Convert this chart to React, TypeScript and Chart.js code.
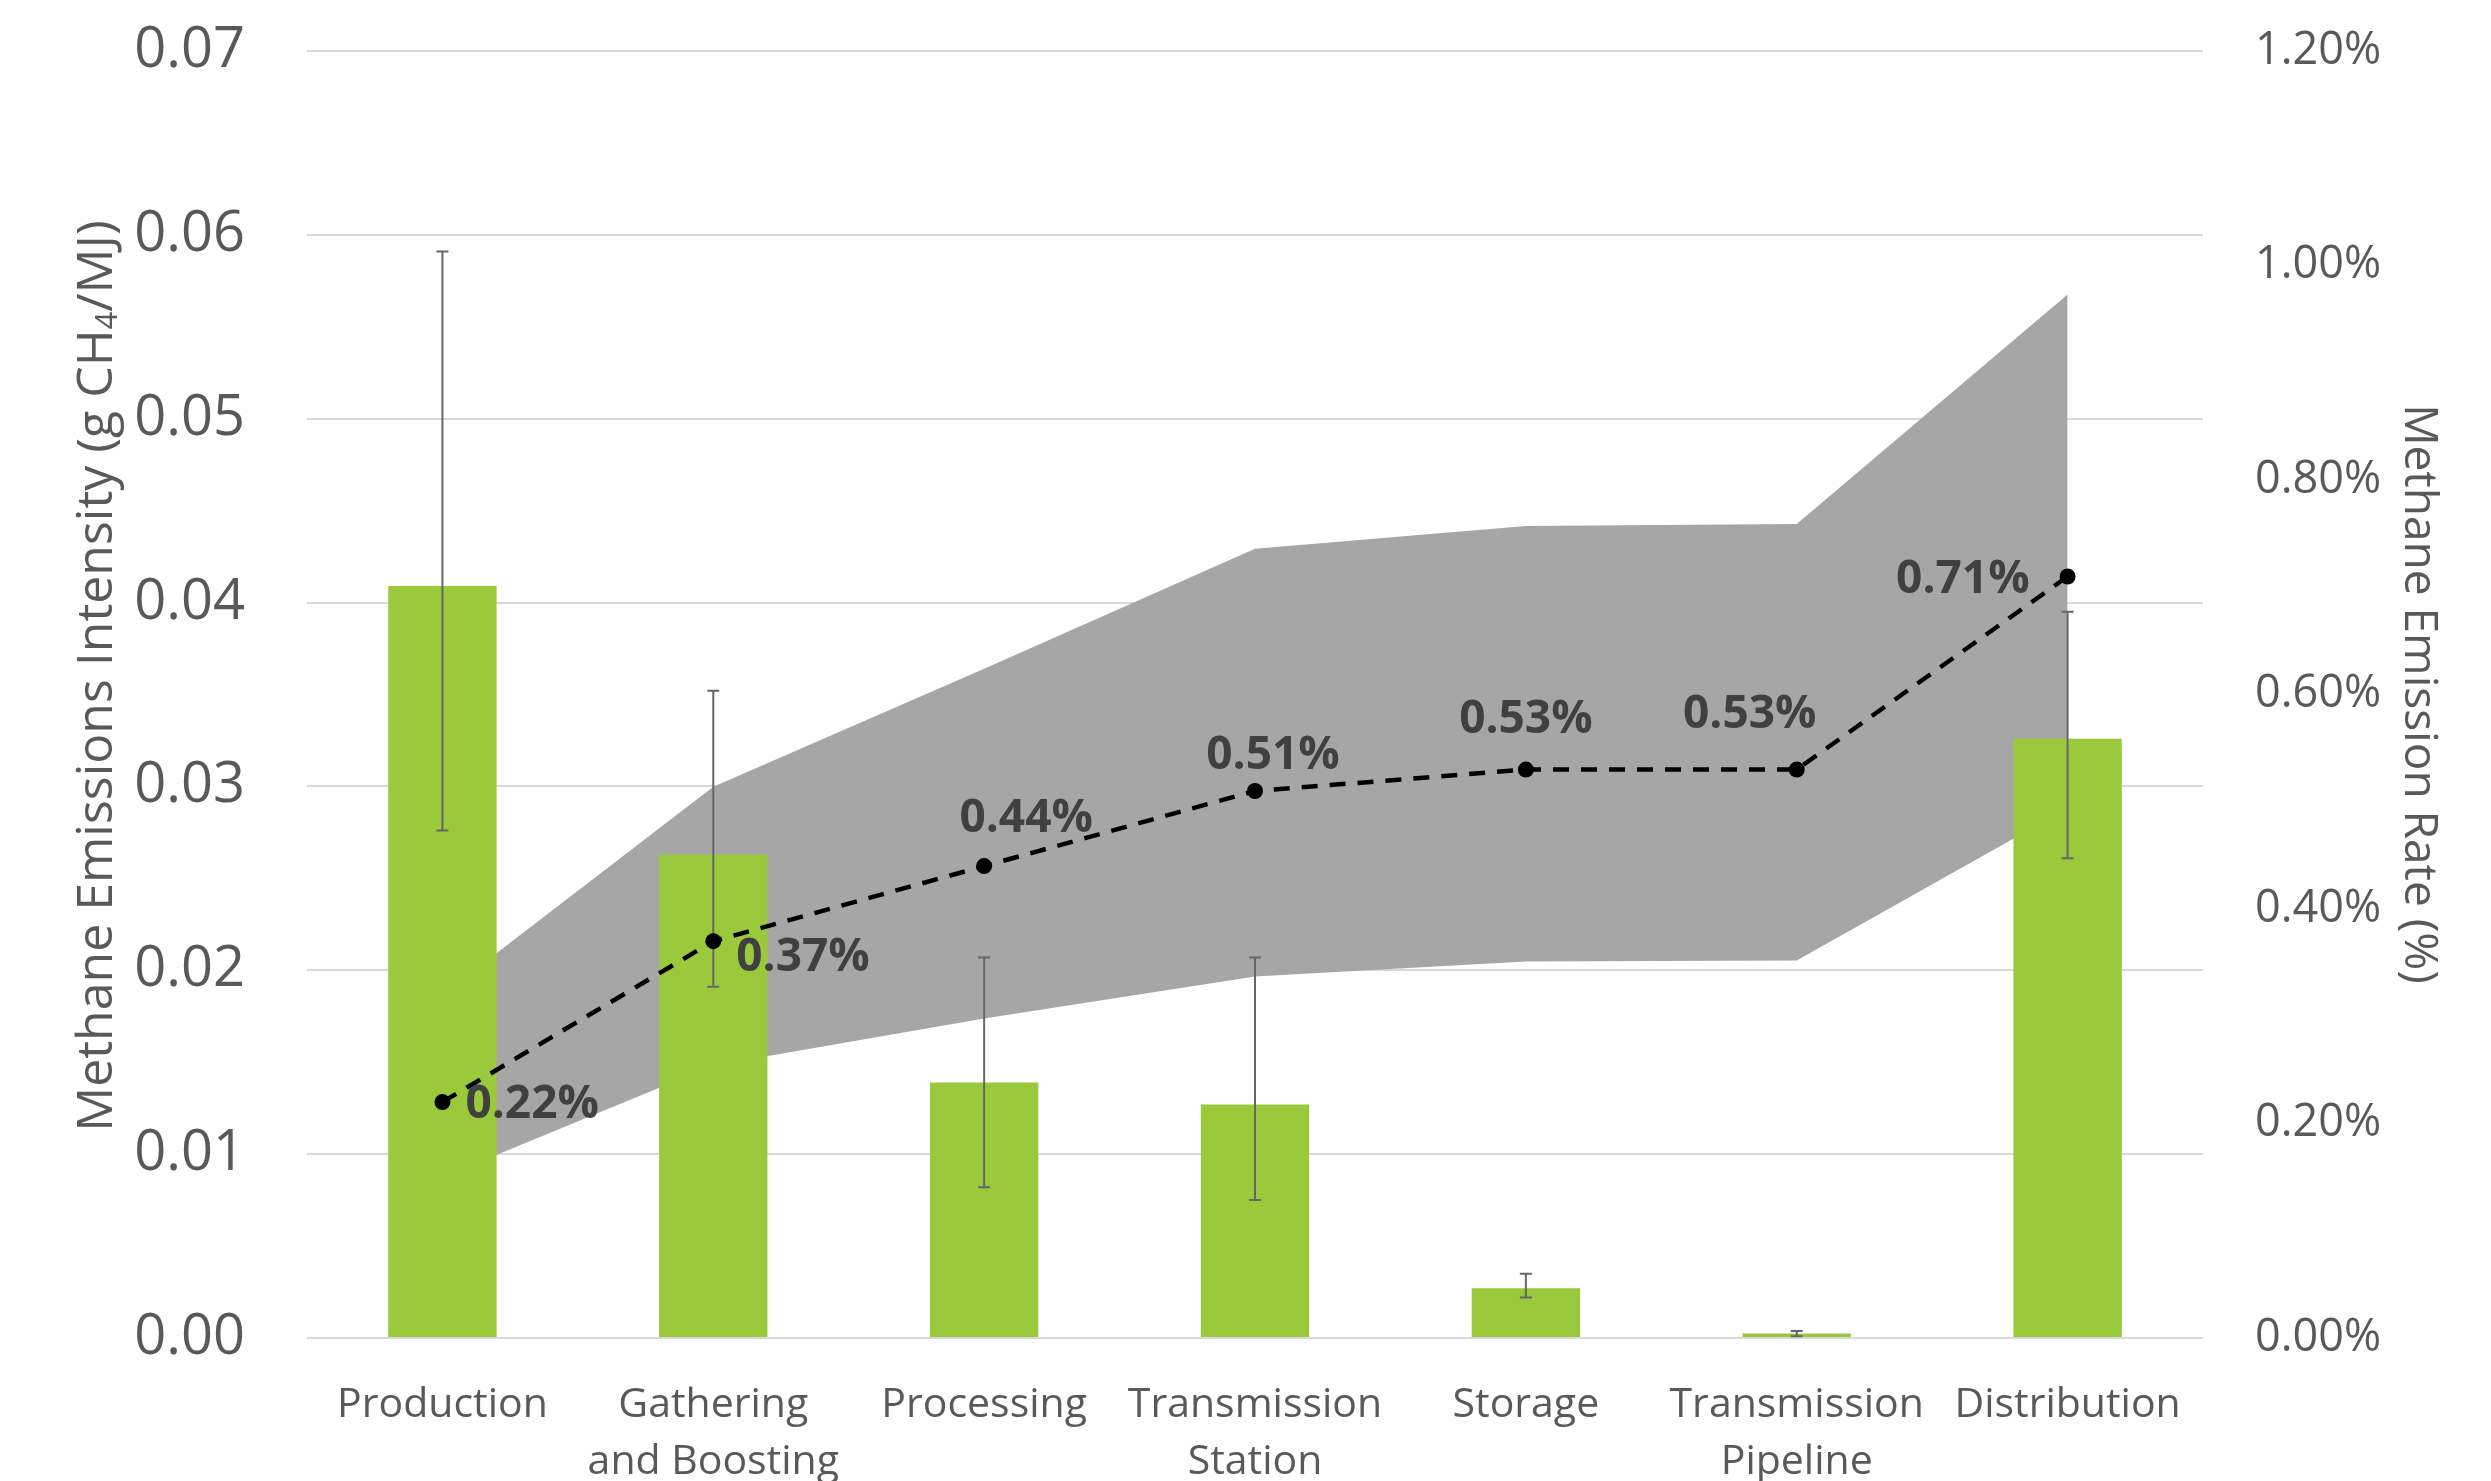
import React, { useEffect, useRef } from 'react';
import { Chart, registerables } from 'chart.js';

Chart.register(...registerables);

// Supply-chain segments (two-line labels are wrapped as arrays)
const categories: (string | string[])[] = [
  'Production',
  ['Gathering', 'and Boosting'],
  'Processing',
  ['Transmission', 'Station'],
  'Storage',
  ['Transmission', 'Pipeline'],
  'Distribution',
];

// Methane emissions intensity, g CH4 / MJ (left axis)
const intensity = [0.0409, 0.0263, 0.0139, 0.0127, 0.0027, 0.00025, 0.0326];
const intensityHigh = [0.0591, 0.0352, 0.0207, 0.0207, 0.0035, 0.00038, 0.0395];
const intensityLow = [0.0276, 0.0191, 0.0082, 0.0075, 0.0022, 0.0001, 0.0261];

// Cumulative methane emission rate, % (right axis)
const emissionRate = [0.22, 0.37, 0.44, 0.51, 0.53, 0.53, 0.71];
const rateUpper = [0.32, 0.514, 0.624, 0.736, 0.757, 0.759, 0.973];
const rateLower = [0.15, 0.254, 0.298, 0.337, 0.351, 0.352, 0.494];

// Axis ranges and tick steps
const intensityMax = 0.07;
const intensityStep = 0.01;
const rateMax = 1.2;
const rateStep = 0.2;

// Rate label placement relative to each point
const labelAlign: CanvasTextAlign[] = ['left', 'left', 'center', 'center', 'center', 'center', 'right'];
const labelDx = [23, 23, 42, 18, 0, -47, -38];
const labelDy = [3, 17, -47, -35, -50, -55, 3];

const FONT = "'Open Sans', 'DejaVu Sans', sans-serif";
const TEXT = '#595959';

const errorBarPlugin = {
  id: 'errorBars',
  afterDatasetDraw(chart: any, args: any) {
    if (args.index !== 0) return;
    const { ctx } = chart;
    const y = chart.scales.y;
    ctx.save();
    ctx.strokeStyle = '#666666';
    ctx.lineWidth = 2;
    args.meta.data.forEach((bar: any, i: number) => {
      const x = bar.x;
      const yHi = y.getPixelForValue(intensityHigh[i]);
      const yLo = y.getPixelForValue(intensityLow[i]);
      ctx.beginPath();
      ctx.moveTo(x, yHi);
      ctx.lineTo(x, yLo);
      ctx.moveTo(x - 6, yHi);
      ctx.lineTo(x + 6, yHi);
      ctx.moveTo(x - 6, yLo);
      ctx.lineTo(x + 6, yLo);
      ctx.stroke();
    });
    ctx.restore();
  },
};

const rateLabelPlugin = {
  id: 'rateLabels',
  afterDatasetsDraw(chart: any) {
    const { ctx } = chart;
    const meta = chart.getDatasetMeta(1);
    ctx.save();
    ctx.fillStyle = '#404040';
    ctx.font = `bold 46px ${FONT}`;
    ctx.textBaseline = 'middle';
    meta.data.forEach((pt: any, i: number) => {
      ctx.textAlign = labelAlign[i];
      ctx.fillText(`${emissionRate[i].toFixed(2)}%`, pt.x + labelDx[i], pt.y + labelDy[i]);
    });
    ctx.restore();
  },
};

type Part = { text: string; sub?: boolean };

function drawRotatedTitle(ctx: CanvasRenderingContext2D, parts: Part[], cx: number, cy: number, angle: number, size: number) {
  const subSize = Math.round(size * 0.62);
  const widths = parts.map((p) => {
    ctx.font = `${p.sub ? subSize : size}px ${FONT}`;
    return ctx.measureText(p.text).width;
  });
  const total = widths.reduce((a, b) => a + b, 0);
  ctx.save();
  ctx.translate(cx, cy);
  ctx.rotate(angle);
  ctx.textAlign = 'left';
  ctx.textBaseline = 'middle';
  let x = -total / 2;
  parts.forEach((p, i) => {
    ctx.font = `${p.sub ? subSize : size}px ${FONT}`;
    ctx.fillText(p.text, x, p.sub ? size * 0.2 : 0);
    x += widths[i];
  });
  ctx.restore();
}

const axisTitlePlugin = {
  id: 'axisTitles',
  afterDraw(chart: any) {
    const { ctx } = chart;
    ctx.save();
    ctx.fillStyle = TEXT;
    drawRotatedTitle(
      ctx,
      [{ text: 'Methane Emissions Intensity (g CH' }, { text: '4', sub: true }, { text: '/MJ)' }],
      98,
      676,
      -Math.PI / 2,
      50
    );
    drawRotatedTitle(ctx, [{ text: 'Methane Emission Rate (%)' }], 2418, 694, Math.PI / 2, 46);
    ctx.restore();
  },
};

export default function App() {
  const canvasRef = useRef<HTMLCanvasElement>(null);

  useEffect(() => {
    const canvas = canvasRef.current;
    if (!canvas) return;
    const chart = new Chart(canvas, {
      type: 'bar',
      data: {
        labels: categories as any,
        datasets: [
          {
            type: 'bar',
            label: 'Methane emissions intensity',
            data: intensity,
            backgroundColor: '#9ACA3C',
            yAxisID: 'y',
            order: 1,
            barPercentage: 0.4,
            categoryPercentage: 1,
          },
          {
            type: 'line',
            label: 'Methane emission rate',
            data: emissionRate,
            yAxisID: 'y1',
            borderColor: '#000000',
            borderWidth: 4.5,
            borderDash: [16, 12],
            pointRadius: 8,
            pointBackgroundColor: '#000000',
            pointBorderWidth: 0,
            fill: false,
            tension: 0,
            order: 0,
          },
          {
            type: 'line',
            label: 'Rate range low',
            data: rateLower,
            yAxisID: 'y1',
            borderWidth: 0,
            borderColor: 'rgba(0,0,0,0)',
            pointRadius: 0,
            fill: false,
            order: 2,
          },
          {
            type: 'line',
            label: 'Rate range high',
            data: rateUpper,
            yAxisID: 'y1',
            borderWidth: 0,
            borderColor: 'rgba(0,0,0,0)',
            backgroundColor: '#A6A6A6',
            pointRadius: 0,
            fill: '-1',
            order: 2,
          },
        ] as any,
      },
      options: {
        responsive: false,
        animation: false,
        layout: { padding: { top: 51, left: 0, right: 0, bottom: 0 } },
        plugins: {
          legend: { display: false },
          tooltip: { enabled: false },
        },
        scales: {
          x: {
            grid: { display: false },
            border: { display: false },
            ticks: {
              color: TEXT,
              font: { family: FONT, size: 41, lineHeight: 1.39 },
              padding: 31,
              maxRotation: 0,
              autoSkip: false,
            },
            afterFit: (s: any) => {
              s.height = 143;
            },
          },
          y: {
            position: 'left',
            min: 0,
            max: intensityMax,
            ticks: {
              stepSize: intensityStep,
              color: TEXT,
              font: { family: FONT, size: 56 },
              padding: 62,
              callback: (v: any) => Number(v).toFixed(2),
            },
            grid: { color: '#D9D9D9', lineWidth: 2, drawTicks: false },
            border: { display: false },
            afterFit: (s: any) => {
              s.width = 307;
              s.paddingTop = 0;
              s.paddingBottom = 0;
            },
          },
          y1: {
            position: 'right',
            min: 0,
            max: rateMax,
            ticks: {
              stepSize: rateStep,
              color: TEXT,
              font: { family: FONT, size: 45 },
              padding: 52,
              callback: (v: any) => `${Number(v).toFixed(2)}%`,
            },
            grid: { display: false, drawTicks: false },
            border: { display: false },
            afterFit: (s: any) => {
              s.width = 288;
              s.paddingTop = 0;
              s.paddingBottom = 0;
            },
          },
        } as any,
      },
      plugins: [errorBarPlugin, rateLabelPlugin, axisTitlePlugin],
    });
    return () => chart.destroy();
  }, []);

  return (
    <div style={{ position: 'fixed', left: 0, top: 0, width: 2491, height: 1481, background: '#ffffff' }}>
      <canvas ref={canvasRef} width={2491} height={1481} style={{ display: 'block' }} />
    </div>
  );
}
